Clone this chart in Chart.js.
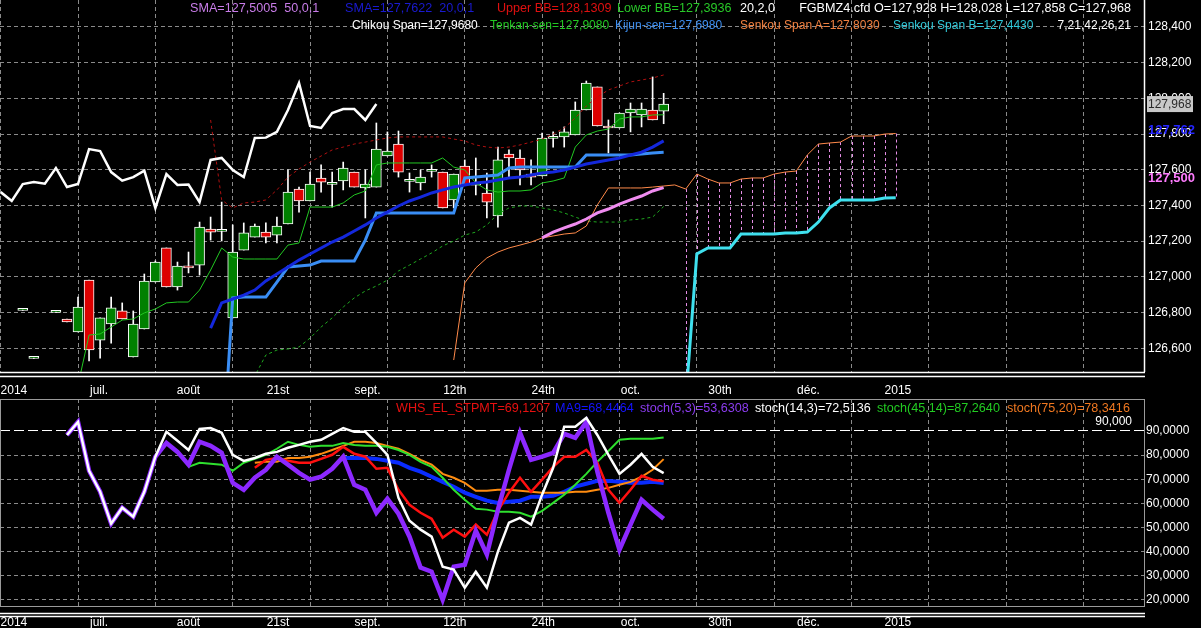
<!DOCTYPE html>
<html>
<head>
<meta charset="utf-8">
<title>FGBMZ4 Ichimoku</title>
<script src="https://cdn.jsdelivr.net/npm/chart.js@4.4.1/dist/chart.umd.min.js"></script>
<style>
  html, body { margin: 0; padding: 0; background: #000; }
  #wrap { position: relative; width: 1201px; height: 628px; overflow: hidden; background: #000; }
  canvas { position: absolute; left: 0; }
  .lg { position: absolute; font: 12.6px "Liberation Sans", Arial, sans-serif; white-space: nowrap; line-height: 14px; }
  .r2 { font-size: 12px; }
</style>
</head>
<body>
<div id="wrap">
  <canvas id="priceChart" width="1201" height="398" style="top:0"></canvas>
  <canvas id="stochChart" width="1201" height="230" style="top:398px"></canvas>

  <span class="lg" style="left:190px;top:1px;color:#c87ce8">SMA=127,5005&nbsp;&nbsp;50,0,1</span>
  <span class="lg" style="left:345px;top:1px;color:#1a1ad0">SMA=127,7622&nbsp;&nbsp;20,0,1</span>
  <span class="lg" style="left:497px;top:1px;color:#e01010">Upper BB=128,1309</span>
  <span class="lg" style="left:617px;top:1px;color:#28c828">Lower BB=127,3936</span>
  <span class="lg" style="left:740px;top:1px;color:#fff">20,2,0</span>
  <span class="lg" style="right:70px;top:1px;color:#fff">FGBMZ4.cfd O=127,928 H=128,028 L=127,858 C=127,968</span>

  <span class="lg r2" style="left:352px;top:18px;color:#fff">Chikou Span=127,9680</span>
  <span class="lg r2" style="left:490px;top:18px;color:#22c822">Tenkan-sen=127,9080</span>
  <span class="lg r2" style="left:615px;top:18px;color:#3d8ef0">Kijun-sen=127,6980</span>
  <span class="lg r2" style="left:740px;top:18px;color:#f08040">Senkou Span A=127,8030</span>
  <span class="lg r2" style="left:893px;top:18px;color:#30c8d8">Senkou Span B=127,4430</span>
  <span class="lg r2" style="right:70px;top:18px;color:#fff">7,21,42,26,21</span>

  <span class="lg" style="left:396px;top:401px;color:#e81010">WHS_EL_STPMT=69,1207</span>
  <span class="lg" style="left:555px;top:401px;color:#1414ff">MA9=68,4464</span>
  <span class="lg" style="left:640px;top:401px;color:#8c3cf0">stoch(5,3)=53,6308</span>
  <span class="lg" style="left:755px;top:401px;color:#fff">stoch(14,3)=72,5136</span>
  <span class="lg" style="left:877px;top:401px;color:#22cc22">stoch(45,14)=87,2640</span>
  <span class="lg" style="left:1007px;top:401px;color:#f07820">stoch(75,20)=78,3416</span>
</div>

<script>
// ---------- price panel data (x = bar index, 0 = first weekly grid line) ----------
const candleStart = -5;
const opens = [126.812, 126.543, null, 126.801, 126.764, 126.691, 126.982, 126.646, 126.736, 126.809,
  126.551, 126.708, 126.971, 127.162, 126.943, 127.061, 127.066, 127.268, 127.255, 126.770,
  127.150, 127.223, 127.251, 127.234, 127.296, 127.492, 127.425, 127.554, 127.518, 127.537,
  127.587, 127.498, 127.503, 127.677, 127.744, 127.535, 127.526, 127.591, 127.587, 127.431,
  127.621, 127.513, 127.470, 127.341, 127.688, 127.666, 127.576, 127.565, 127.776, 127.784,
  127.795, 127.935, 128.064, 127.840, 127.834, 127.918, 127.907, 127.935, 127.928];
const highs = [126.816, 126.547, null, 126.805, 126.764, 126.887, 126.982, 126.770, 126.887, 126.854,
  126.809, 127.016, 127.089, 127.162, 127.083, 127.139, 127.307, 127.335, 127.419, 127.291,
  127.302, 127.296, 127.302, 127.335, 127.599, 127.503, 127.587, 127.627, 127.587, 127.643,
  127.587, 127.599, 127.862, 127.812, 127.817, 127.582, 127.599, 127.627, 127.587, 127.576,
  127.655, 127.666, 127.582, 127.727, 127.711, 127.711, 127.655, 127.806, 127.812, 127.840,
  127.980, 128.097, 128.064, 127.879, 127.918, 127.974, 127.974, 128.120, 128.028];
const lows = [126.812, 126.543, null, 126.801, 126.747, 126.691, 126.529, 126.545, 126.629, 126.764,
  126.551, 126.708, 126.971, 126.943, 126.926, 127.022, 127.010, 127.206, 127.201, 126.770,
  127.150, 127.223, 127.190, 127.190, 127.296, 127.363, 127.425, 127.475, 127.391, 127.487,
  127.503, 127.330, 127.503, 127.677, 127.559, 127.475, 127.487, 127.559, 127.386, 127.386,
  127.515, 127.459, 127.330, 127.279, 127.559, 127.515, 127.515, 127.565, 127.727, 127.727,
  127.795, 127.935, 127.845, 127.694, 127.834, 127.812, 127.840, 127.879, 127.858];
const closes = [126.816, 126.547, null, 126.805, 126.747, 126.831, 126.590, 126.770, 126.826, 126.764,
  126.736, 126.977, 127.083, 126.943, 127.061, 127.050, 127.279, 127.251, 127.259, 127.139,
  127.246, 127.285, 127.223, 127.285, 127.475, 127.425, 127.520, 127.531, 127.522, 127.610,
  127.503, 127.520, 127.716, 127.705, 127.587, 127.539, 127.559, 127.595, 127.386, 127.576,
  127.515, 127.517, 127.419, 127.655, 127.666, 127.599, 127.559, 127.778, 127.780, 127.812,
  127.935, 128.086, 127.845, 127.834, 127.918, 127.940, 127.940, 127.879, 127.968];

const chikouStart = -7;
const chikou = [127.475, 127.425, 127.520, 127.531, 127.522, 127.610, 127.503, 127.520, 127.716, 127.705,
  127.587, 127.539, 127.559, 127.595, 127.386, 127.576, 127.515, 127.517, 127.419, 127.655,
  127.666, 127.599, 127.559, 127.778, 127.780, 127.812, 127.935, 128.086, 127.845, 127.834,
  127.918, 127.940, 127.940, 127.879, 127.968];

const tenkanStart = 0;
const tenkan = [126.394, 126.674, 126.680, 126.719, 126.758, 126.764, 126.798, 126.820, 126.854, 126.859,
  126.859, 126.926, 127.038, 127.162, 127.111, 127.100, 127.100, 127.100, 127.100, 127.178,
  127.190, 127.391, 127.391, 127.391, 127.414, 127.459, 127.481, 127.627, 127.638, 127.638,
  127.638, 127.638, 127.638, 127.666, 127.615, 127.599, 127.526, 127.487, 127.475, 127.481,
  127.481, 127.487, 127.526, 127.537, 127.554, 127.727, 127.795, 127.817, 127.828, 127.884,
  127.896, 127.896, 127.907, 127.908];

const kijunStart = 13;
const kijun = [125.901, 126.882, 126.887, 126.887, 126.887, 126.971, 127.055, 127.061, 127.066, 127.089,
  127.089, 127.089, 127.089, 127.206, 127.358, 127.358, 127.358, 127.358, 127.358, 127.358,
  127.358, 127.358, 127.554, 127.559, 127.565, 127.571, 127.610, 127.615, 127.615, 127.615,
  127.615, 127.615, 127.615, 127.683, 127.683, 127.683, 127.683, 127.683, 127.688, 127.694,
  127.698];

const sma20Start = 12;
const sma20 = [126.713, 126.854, 126.876, 126.898, 126.926, 126.977, 127.016, 127.055, 127.094, 127.128,
  127.162, 127.195, 127.223, 127.257, 127.291, 127.330, 127.363, 127.397, 127.425, 127.447,
  127.470, 127.487, 127.503, 127.515, 127.526, 127.531, 127.543, 127.554, 127.559, 127.571,
  127.582, 127.587, 127.599, 127.615, 127.632, 127.643, 127.655, 127.666, 127.683, 127.699,
  127.727, 127.762];

const sma50Start = 42;
const sma50 = [127.218, 127.251, 127.274, 127.296, 127.324, 127.358, 127.380, 127.408, 127.431, 127.453,
  127.481, 127.500];

const bbStart = 12;
const bbUpper = [127.879, 127.431, 127.386, 127.414, 127.419, 127.431, 127.487, 127.559, 127.604, 127.643,
  127.677, 127.711, 127.727, 127.744, 127.755, 127.767, 127.778, 127.784, 127.784, 127.784,
  127.784, 127.784, 127.772, 127.761, 127.739, 127.727, 127.722, 127.727, 127.739, 127.755,
  127.772, 127.800, 127.834, 127.890, 127.957, 128.008, 128.047, 128.069, 128.092, 128.103,
  128.114, 128.131];
const bbLower = [125.548, 126.277, 126.366, 126.389, 126.445, 126.562, 126.590, 126.596, 126.607, 126.657,
  126.719, 126.770, 126.831, 126.882, 126.921, 126.949, 126.982, 127.033, 127.066, 127.100,
  127.134, 127.173, 127.201, 127.234, 127.251, 127.291, 127.352, 127.386, 127.397, 127.397,
  127.386, 127.375, 127.358, 127.335, 127.313, 127.307, 127.307, 127.307, 127.319, 127.324,
  127.335, 127.394];

const spanAStart = 34;
const spanA = [126.534, 126.966, 127.050, 127.106, 127.139, 127.162, 127.178, 127.195, 127.218, 127.229,
  127.240, 127.246, 127.285, 127.403, 127.498, 127.498, 127.498, 127.498, 127.503, 127.509,
  127.515, 127.492, 127.576, 127.548, 127.526, 127.526, 127.548, 127.554, 127.554, 127.576,
  127.587, 127.593, 127.683, 127.744, 127.750, 127.755, 127.789, 127.789, 127.789, 127.800,
  127.803];

const spanBStart = 55;
const spanB = [126.310, 127.128, 127.162, 127.162, 127.162, 127.240, 127.240, 127.240, 127.240, 127.246,
  127.246, 127.251, 127.307, 127.386, 127.431, 127.431, 127.431, 127.431, 127.442, 127.443];

// ---------- oscillator panel data ----------
const fastStart = -1;
const stoch5 = [88.3, 93.7, 73.5, 64.8, 51.6, 58.2, 54.5, 64.8, 79.3, 85.0,
  81.3, 76.0, 85.5, 83.8, 80.9, 68.5, 65.6, 70.6, 73.9, 79.3,
  76.0, 72.6, 69.8, 71.0, 74.3, 79.3, 67.7, 65.6, 56.1, 61.9,
  55.7, 46.2, 33.4, 31.7, 20.1, 33.8, 34.6, 48.7, 38.8, 57.4,
  73.9, 89.2, 78.0, 79.3, 80.9, 88.8, 87.1, 93.7, 73.1, 56.1,
  40.8, 51.2, 61.5, 57.4, 53.6];
const stoch14 = [88.3, 93.7, 73.5, 64.8, 51.6, 58.2, 54.5, 64.8, 79.3, 89.6,
  85.9, 82.1, 90.8, 91.2, 89.2, 80.1, 77.6, 78.8, 80.5, 81.3,
  83.0, 84.2, 85.5, 86.3, 88.8, 91.2, 89.6, 89.6, 85.0, 80.1,
  62.3, 52.8, 49.1, 46.2, 33.8, 32.6, 25.1, 31.7, 25.1, 40.0,
  52.0, 54.0, 51.2, 63.6, 74.7, 91.7, 91.7, 95.4, 88.3, 80.1,
  72.2, 76.0, 80.5, 75.1, 72.5];

const stoch45Start = 10;
const stoch45 = [75.1, 76.8, 76.4, 76.0, 73.5, 76.8, 78.4, 80.1, 82.6, 85.5,
  84.2, 83.4, 83.8, 83.8, 85.0, 84.2, 83.8, 83.8, 83.4, 82.1,
  80.1, 77.2, 75.1, 70.6, 65.6, 61.5, 57.8, 57.4, 56.5, 56.5,
  56.1, 54.5, 56.9, 60.2, 63.6, 67.7, 72.2, 77.2, 81.7, 86.3,
  86.7, 86.7, 86.7, 87.3];

const slowStart = 16;
const stoch75 = [76.8, 77.2, 77.2, 78.8, 78.8, 79.3, 80.5, 82.1, 83.8, 85.5,
  85.5, 85.0, 83.8, 82.6, 80.5, 78.0, 76.0, 72.2, 70.6, 68.5,
  65.2, 65.2, 65.6, 65.6, 65.2, 64.8, 64.4, 64.4, 64.4, 64.8,
  64.8, 65.6, 66.4, 67.7, 68.9, 71.0, 73.9, 78.3];
const stpmt = [74.7, 78.0, 78.8, 77.6, 76.8, 76.8, 78.4, 80.1, 83.4, 80.5,
  79.3, 74.3, 74.7, 65.6, 59.4, 56.1, 53.6, 45.8, 49.1, 46.2,
  51.2, 47.0, 56.9, 64.4, 70.6, 64.8, 69.8, 75.1, 79.3, 79.3,
  82.1, 76.8, 65.6, 60.2, 65.6, 71.4, 69.8, 69.1];

const ma9Start = 24;
const ma9 = [78.8, 78.8, 78.8, 78.4, 77.6, 76.8, 74.7, 73.1, 71.0, 68.9,
  66.9, 64.4, 62.7, 61.1, 60.2, 60.7, 61.1, 62.7, 62.7, 63.1,
  64.8, 66.9, 68.1, 69.3, 69.3, 68.9, 68.5, 68.5, 68.9, 68.4];

// ---------- axes ----------
const weekTicks = [-7, 0, 7, 14, 21, 28, 35, 42, 49, 56, 63, 70, 77, 84, 91];
const dateLabels = ['2014', 'juil.', 'août', '21st', 'sept.', '12th', '24th', 'oct.', '30th', 'déc.', '2015'];
const datePos = [-5.8, 1.9, 10.0, 18.1, 26.2, 34.1, 42.1, 50.0, 58.1, 66.1, 74.2];
const priceTicks = [126.6, 126.8, 127.0, 127.2, 127.4, 127.6, 127.8, 128.0, 128.2, 128.4];
const stochTicks = [20, 30, 40, 50, 60, 70, 80, 90];
const stochLevel = 90;
const xMin = -7.06, xMax = 96.47;
const priceMin = 126.467, priceMax = 128.551;
const stochMin = 17.5, stochMax = 103.2;

const fontFamily = '"Liberation Sans", Arial, sans-serif';
const gridColor = '#8a8a8a';
Chart.defaults.font.family = fontFamily;
Chart.defaults.font.size = 12;
Chart.defaults.color = '#ffffff';

function points(start, values) {
  return values.map((v, k) => ({x: start + k, y: v}));
}

function fmt(v, d) {
  return v.toFixed(d).replace('.', ',');
}

function lineDs(label, start, values, color, width, extra) {
  return Object.assign({
    type: 'line', label: label, data: points(start, values),
    borderColor: color, borderWidth: width, pointRadius: 0, tension: 0, fill: false
  }, extra || {});
}

function drawDates(ctx, xScale, yPos) {
  ctx.fillStyle = '#ffffff';
  ctx.font = '12px ' + fontFamily;
  ctx.textAlign = 'center';
  ctx.textBaseline = 'middle';
  dateLabels.forEach((t, k) => ctx.fillText(t, xScale.getPixelForValue(datePos[k]), yPos));
}

function xAxis(height) {
  return {
    type: 'linear', min: xMin, max: xMax, offset: false,
    afterBuildTicks: s => { s.ticks = weekTicks.map(v => ({value: v})); },
    ticks: {display: false},
    grid: {color: gridColor, drawTicks: false, offset: false},
    border: {display: false, dash: [4, 3]},
    afterFit: s => { s.height = height; s.paddingLeft = 0; s.paddingRight = 0; }
  };
}

// keep the value axis from pushing the plot area in
function fitValueAxis(s) {
  s.width = 57;
  s.paddingTop = 0;
  s.paddingBottom = 0;
}

// candle bodies and wicks as floating bars
const bodyData = [], bodyColors = [], wickData = [];
opens.forEach((o, k) => {
  if (o == null) return;
  const i = candleStart + k;
  bodyData.push({x: i, y: [o, closes[k]]});
  bodyColors.push(closes[k] >= o ? '#008000' : '#dd0000');
  wickData.push({x: i, y: [lows[k], highs[k]]});
});

const priceDecor = {
  id: 'priceDecor',
  beforeDatasetsDraw(chart) {
    const {ctx, chartArea: a, scales: {x, y}} = chart;
    ctx.save();
    ctx.beginPath();
    ctx.rect(a.left, a.top, a.right - a.left, a.bottom - a.top);
    ctx.clip();
    ctx.strokeStyle = '#e68ee6';
    ctx.lineWidth = 1;
    ctx.setLineDash([3, 3]);
    spanB.forEach((b, k) => {
      const i = spanBStart + k;
      const av = spanA[i - spanAStart];
      if (av == null) return;
      const px = Math.round(x.getPixelForValue(i)) + 0.5;
      ctx.beginPath();
      ctx.moveTo(px, y.getPixelForValue(av));
      ctx.lineTo(px, y.getPixelForValue(b));
      ctx.stroke();
    });
    ctx.restore();
  },
  afterDraw(chart) {
    const {ctx, chartArea: a, scales: {x, y}} = chart;
    ctx.save();
    ctx.strokeStyle = '#ffffff';
    ctx.lineWidth = 1.5;
    ctx.beginPath();
    ctx.moveTo(a.right + 0.5, a.top);
    ctx.lineTo(a.right + 0.5, a.bottom);
    ctx.moveTo(a.left, a.bottom + 0.5);
    ctx.lineTo(a.right + 1, a.bottom + 0.5);
    ctx.moveTo(a.left, a.bottom + 4.5);
    ctx.lineTo(a.right + 1, a.bottom + 4.5);
    ctx.stroke();

    drawDates(ctx, x, a.bottom + 19);

    // last value tags on the price axis
    const lastClose = closes[closes.length - 1];
    const cy = y.getPixelForValue(lastClose);
    ctx.fillStyle = '#c8c8c8';
    ctx.fillRect(a.right + 3, cy - 8, 46, 16);
    ctx.fillStyle = '#2a2a2a';
    ctx.textAlign = 'left';
    ctx.textBaseline = 'middle';
    ctx.font = '12px ' + fontFamily;
    ctx.fillText(fmt(lastClose, 3), a.right + 4, cy + 1);

    ctx.font = 'bold 13px ' + fontFamily;
    const s20 = sma20[sma20.length - 1];
    ctx.fillStyle = '#2424ff';
    ctx.fillText(fmt(s20, 3), a.right + 4, y.getPixelForValue(s20) - 10);
    const s50 = sma50[sma50.length - 1];
    ctx.fillStyle = '#ff7cff';
    ctx.fillText(fmt(s50, 3), a.right + 4, y.getPixelForValue(s50) - 9);
    ctx.restore();
  }
};

const stochDecor = {
  id: 'stochDecor',
  afterDraw(chart) {
    const {ctx, chartArea: a, scales: {x, y}} = chart;
    ctx.save();
    ctx.strokeStyle = '#9a9a9a';
    ctx.lineWidth = 1;
    ctx.strokeRect(a.left + 0.5, a.top + 0.5, a.right - a.left, a.bottom - a.top);
    ctx.strokeStyle = '#ffffff';
    ctx.lineWidth = 1.5;
    ctx.beginPath();
    ctx.moveTo(a.left, a.bottom + 7.5);
    ctx.lineTo(a.right + 1, a.bottom + 7.5);
    ctx.moveTo(a.left, a.bottom + 10.5);
    ctx.lineTo(a.right + 1, a.bottom + 10.5);
    ctx.stroke();

    drawDates(ctx, x, a.bottom + 17);

    ctx.fillStyle = '#ffffff';
    ctx.font = '12px ' + fontFamily;
    ctx.textAlign = 'right';
    ctx.textBaseline = 'middle';
    ctx.fillText(fmt(stochLevel, 3), a.right - 12, y.getPixelForValue(stochLevel) - 9);
    ctx.restore();
  }
};

const baseOptions = {
  responsive: false,
  animation: false,
  devicePixelRatio: 1,
  events: [],
  plugins: {legend: {display: false}, tooltip: {enabled: false}}
};

new Chart(document.getElementById('priceChart').getContext('2d'), {
  type: 'line',
  data: {
    datasets: [
      lineDs('Chikou Span', chikouStart, chikou, '#ffffff', 2.5),
      lineDs('SMA 50', sma50Start, sma50, '#f08cf0', 3),
      lineDs('SMA 20', sma20Start, sma20, '#1428dc', 3),
      lineDs('Kijun-sen', kijunStart, kijun, '#3a8ef5', 3),
      lineDs('Tenkan-sen', tenkanStart, tenkan, '#22c822', 1),
      lineDs('Senkou Span B', spanBStart, spanB, '#3fe0ee', 3),
      lineDs('Senkou Span A', spanAStart, spanA, '#ff8a4a', 1),
      lineDs('Upper BB', bbStart, bbUpper, '#b01010', 1, {borderDash: [3, 3]}),
      lineDs('Lower BB', bbStart, bbLower, '#1fa81f', 1, {borderDash: [3, 3]}),
      {
        type: 'bar', label: 'body', data: bodyData, backgroundColor: bodyColors,
        borderColor: '#ffffff', borderWidth: 1, borderSkipped: false,
        barThickness: 10, minBarLength: 2, grouped: false
      },
      {
        type: 'bar', label: 'wick', data: wickData, backgroundColor: '#ffffff',
        borderWidth: 0, barThickness: 1, grouped: false
      }
    ]
  },
  options: Object.assign({}, baseOptions, {
    layout: {padding: 0, autoPadding: false},
    scales: {
      x: xAxis(26),
      y: {
        type: 'linear', position: 'right', min: priceMin, max: priceMax,
        afterBuildTicks: s => { s.ticks = priceTicks.map(v => ({value: v})); },
        ticks: {color: '#ffffff', padding: 4, callback: v => fmt(v, 3)},
        grid: {color: gridColor, drawTicks: false},
        border: {display: false, dash: [4, 3]},
        afterFit: fitValueAxis
      }
    }
  }),
  plugins: [priceDecor]
});

new Chart(document.getElementById('stochChart').getContext('2d'), {
  type: 'line',
  data: {
    datasets: [
      lineDs('stoch(14,3)', fastStart, stoch14, '#ffffff', 2.5),
      lineDs('stoch(5,3)', fastStart, stoch5, '#8c28ff', 4.5),
      lineDs('WHS_EL_STPMT', slowStart, stpmt, '#ff1010', 2.5),
      lineDs('stoch(45,14)', stoch45Start, stoch45, '#2ee02e', 2),
      lineDs('stoch(75,20)', slowStart, stoch75, '#ff8c10', 2),
      lineDs('MA9', ma9Start, ma9, '#0a2cff', 4)
    ]
  },
  options: Object.assign({}, baseOptions, {
    layout: {padding: {top: 1}, autoPadding: false},
    scales: {
      x: xAxis(22),
      y: {
        type: 'linear', position: 'right', min: stochMin, max: stochMax,
        afterBuildTicks: s => { s.ticks = stochTicks.map(v => ({value: v})); },
        ticks: {color: '#ffffff', padding: 2, callback: v => fmt(v, 4)},
        grid: {
          color: c => (c.tick && c.tick.value === stochLevel ? '#ffffff' : gridColor),
          drawTicks: false
        },
        border: {
          display: false,
          dash: c => (c.tick && c.tick.value === stochLevel ? [10, 4] : [4, 3])
        },
        afterFit: fitValueAxis
      }
    }
  }),
  plugins: [stochDecor]
});
</script>
</body>
</html>
